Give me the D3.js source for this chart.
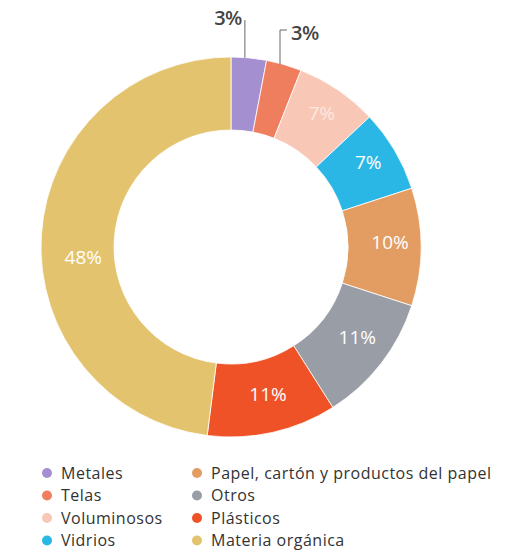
<!DOCTYPE html>
<html>
<head>
<meta charset="utf-8">
<style>
body { margin: 0; background: #fff; }
svg { font-family: "Open Sans", sans-serif; }
.inLabel { fill: #fff; font-size: 19px; }
.outLabel { fill: #444; font-size: 20px; font-weight: 600; letter-spacing: -0.5px; }
.legend text { fill: #333; font-size: 16px; letter-spacing: 0.5px; }
</style>
</head>
<body>
<svg id="chart" width="513" height="553"></svg>
<script src="https://d3js.org/d3.v7.min.js"></script>
<script>
let categories = ["Metales", "Telas", "Voluminosos", "Vidrios",
    "Papel, cartón y productos del papel", "Otros", "Plásticos", "Materia orgánica"];
let values = [3, 3, 7, 7, 10, 11, 11, 48];
let colors = ["#a48fd1", "#ef7e5e", "#f8c7b6", "#2bb7e6", "#e39d62", "#999ea6", "#ee5226", "#e3c36d"];

let cx = 231, cy = 247,
    outerR = 190, innerR = 117;

let svg = d3.select("#chart");
let chart = svg.append("g")
    .attr("transform", "translate(" + cx + "," + cy + ")");

let color = d3.scaleOrdinal().domain(categories).range(colors);

let pie = d3.pie()
    .sort(null)
    .value(d => d.value);
let arcs = pie(categories.map((c, i) => ({name: c, value: values[i]})));

let arc = d3.arc().innerRadius(innerR).outerRadius(outerR);
let labelArc = d3.arc().innerRadius(156).outerRadius(156);

chart.selectAll("path")
    .data(arcs)
    .join("path")
    .attr("d", arc)
    .attr("fill", d => color(d.data.name))
    .attr("stroke", "#fff")
    .attr("stroke-width", 0.8);

// labels inside the ring (skip the two small slices)
chart.selectAll(".inLabel")
    .data(arcs.filter(d => d.data.value > 5))
    .join("text")
    .attr("class", "inLabel")
    .attr("transform", d => {
        let c = labelArc.centroid(d);
        // the big slice label sits a little lower in the original
        let shift = d.data.value > 40 ? 20 : -5;
        return "translate(" + (c[0] + (d.data.value > 40 ? 8 : 3)) + "," + (c[1] + shift) + ")";
    })
    .attr("text-anchor", "middle")
    .attr("dy", "0.35em")
    .attr("fill-opacity", d => d.index === 2 ? 0.6 : 1)
    .text(d => d.data.value + "%");

// small slices: leader lines up to labels above
let small = arcs.filter(d => d.data.value <= 5);
let tops = [-227, -217];
small.forEach(function(d, i) {
    let a = (d.startAngle + d.endAngle) / 2;
    let x = Math.sin(a) * outerR - 4, y = -Math.cos(a) * outerR;
    let ty = tops[i];
    let path = i === 0
        ? "M" + x + "," + y + "V" + ty
        : "M" + x + "," + y + "V" + ty + "h7";
    chart.append("path")
        .attr("d", path)
        .attr("fill", "none")
        .attr("stroke", "#666")
        .attr("stroke-width", 1);
    chart.append("text")
        .attr("class", "outLabel")
        .attr("x", i === 0 ? x - 3 : x + 11)
        .attr("y", i === 0 ? ty - 2 : ty + 3)
        .attr("text-anchor", i === 0 ? "end" : "start")
        .attr("dy", "0.35em")
        .text(d.data.value + "%");
});

// legend in two columns of four
let legend = svg.append("g").attr("class", "legend");
let item = legend.selectAll("g")
    .data(categories)
    .join("g")
    .attr("transform", (d, i) => "translate(" + (i < 4 ? 47 : 197) + "," + (473 + (i % 4) * 22.5) + ")");
item.append("circle")
    .attr("r", 5)
    .attr("fill", d => color(d));
item.append("text")
    .attr("x", 14)
    .attr("dy", "0.35em")
    .text(d => d);
</script>
</body>
</html>
